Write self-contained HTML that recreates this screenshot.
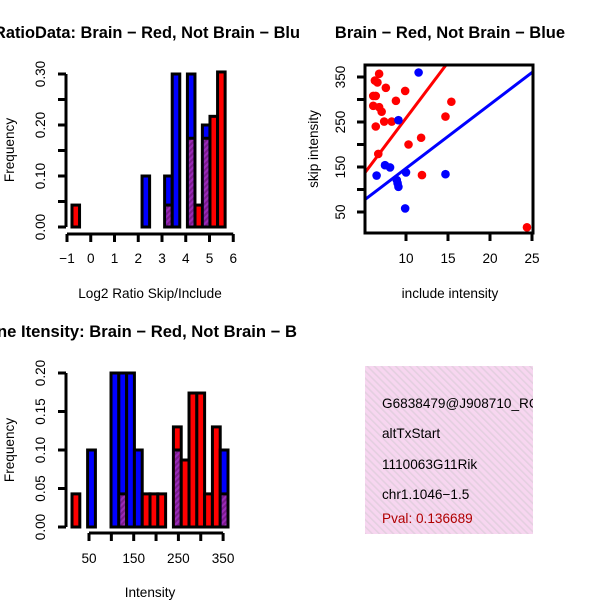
<!DOCTYPE html>
<html><head><meta charset="utf-8">
<style>
html,body{margin:0;padding:0;background:#fff;}
svg{display:block;font-family:"Liberation Sans",sans-serif;}
.t{font-size:13.6px;fill:#000;}
.ttl{font-size:16.5px;font-weight:bold;fill:#000;}
</style></head><body>
<svg id="c" width="600" height="600" viewBox="0 0 600 600" xmlns="http://www.w3.org/2000/svg">
<defs>
<pattern id="ph" width="4" height="4" patternUnits="userSpaceOnUse" patternTransform="rotate(45)">
<rect width="4" height="4" fill="#9a2ab8"/><rect width="2" height="4" fill="#7a1c8c"/>
</pattern>
<pattern id="pink" width="5" height="5" patternUnits="userSpaceOnUse" patternTransform="rotate(-45)">
<rect width="5" height="5" fill="#f7d6f0"/><rect width="1.6" height="5" fill="#e4cfe0"/>
</pattern>
<clipPath id="cp1"><rect x="0" y="0" width="300" height="300"/></clipPath>
<clipPath id="cp3"><rect x="0" y="300" width="300" height="300"/></clipPath>
<clipPath id="cpS"><rect x="365" y="65" width="168" height="168"/></clipPath>
<clipPath id="cpB"><rect x="365" y="366" width="168" height="168"/></clipPath>
</defs>
<g id="g1"></g><g id="g2"></g><g id="g3"></g>
<g>
<rect x="365" y="366" width="168" height="168" fill="url(#pink)"/>
<g clip-path="url(#cpB)" class="t">
<text x="382" y="408">G6838479@J908710_RC</text>
<text x="382" y="438">altTxStart</text>
<text x="382" y="469">1110063G11Rik</text>
<text x="382" y="499">chr1.1046−1.5</text>
<text x="382" y="523" fill="#b00000" style="fill:#b00000">Pval: 0.136689</text>
</g></g>
</svg>
<script>
// ---- Top-left histogram data (log2 ratio) ----
const h1BinLeft = [-0.79, 2.16, 3.11, 3.43, 4.07, 4.39, 4.70, 5.02, 5.34];
const h1Red     = [0.043, 0, 0.043, 0, 0.174, 0.043, 0.174, 0.217, 0.304];
const h1Blue    = [0, 0.10, 0.10, 0.30, 0.30, 0, 0.20, 0, 0];
const h1XTicks  = [-1,0,1,2,3,4,5,6];
const h1YTicks  = ["0.00","0.10","0.20","0.30"];
const h1BinW = 0.318;
// ---- Scatter data ----
const redX = [6.8,6.3,6.6,6.1,6.4,7.6,9.9,8.8,6.1,6.8,7.1,6.4,7.4,8.3,6.7,10.3,11.8,14.7,15.4,11.9,24.4];
const redY = [357,342,338,308,308,326,319,297,286,283,273,240,251,251,179,200,215,262,295,132,16];
const blueX = [11.5,9.1,7.5,8.1,6.5,8.9,9.1,10.0,14.7,9.9,9.0];
const blueY = [360,254,154,149,131,121,106,138,134,58,114];
const redFit = [10.6, 24.8];   // intercept, slope
const blueFit = [5, 14.2];
const sXTicks = [10,15,20,25];
const sYTicks = [50,150,250,350];
// ---- Bottom histogram data (intensity) ----
const h3Red  = [0.043,0,0,0,0,0,0.043,0,0,0.043,0.043,0.043,0,0.13,0.087,0.174,0.174,0.043,0.13,0.043];
const h3Blue = [0,0,0.10,0,0,0.20,0.20,0.20,0.10,0,0,0,0,0.10,0,0,0,0,0,0.10];
const h3Start = 12, h3BinW = 17.45;
const h3XTicks = [50,100,150,200,250,300,350];
const h3XLabels = ["50","","150","","250","","350"];
const h3YTicks = ["0.00","0.05","0.10","0.15","0.20"];

const NS="http://www.w3.org/2000/svg";
function mk(parent, tag, attrs, txt){const e=document.createElementNS(NS,tag);for(const k in attrs)e.setAttribute(k,attrs[k]);if(txt!==undefined)e.textContent=txt;parent.appendChild(e);return e;}

function hist(g, binLeft, binW, red, blue, xs, ys){
  for(let i=0;i<red.length;i++){
    const x0=xs(binLeft[i]), x1=xs(binLeft[i]+binW), r=red[i], b=blue[i];
    const top=Math.max(r,b); if(top<=0) continue;
    const ov=Math.min(r,b);
    const bar=mk(g,'rect',{x:x0,y:ys(top),width:x1-x0,height:ys(0)-ys(top),fill:(b>=r?'#0000ff':'#ff0000'),stroke:'#000','stroke-width':3});
    
    
    if(ov>0){
      const o=mk(g,'rect',{x:x0+1.5,y:ys(ov),width:x1-x0-3,height:ys(0)-ys(ov)-1.5,fill:'url(#ph)'});
      
      
      mk(g,'line',{x1:x0,x2:x1,y1:ys(ov),y2:ys(ov),stroke:'#000','stroke-width':3});
    }
  }
}
function yAxis(g,x,ys,vals,labels,lx){
  mk(g,'line',{x1:x,x2:x,y1:ys(vals[0]),y2:ys(vals[vals.length-1]),stroke:'#000','stroke-width':3});
  vals.forEach((v,i)=>{mk(g,'line',{x1:x-8,x2:x,y1:ys(v),y2:ys(v),stroke:'#000','stroke-width':3});
    if(labels[i]!==''){const t=mk(g,'text',{class:'t',x:lx,y:ys(v),'text-anchor':'middle',transform:`rotate(-90 ${lx} ${ys(v)})`},labels[i]);
    
    }});
}
function xAxis(g,y,xs,vals,labels,ly){
  mk(g,'line',{x1:xs(vals[0]),x2:xs(vals[vals.length-1]),y1:y,y2:y,stroke:'#000','stroke-width':3});
  vals.forEach((v,i)=>{mk(g,'line',{x1:xs(v),x2:xs(v),y1:y,y2:y+8,stroke:'#000','stroke-width':3});
    if(labels[i]!==''){const t=mk(g,'text',{class:'t',x:xs(v),y:ly,'text-anchor':'middle'},labels[i]);
    
    }});
}
// Panel 1
(function(){
  const g=document.getElementById('g1');
  
  
  const xs=v=>67+(v+1)*23.75, ys=f=>227-f*510;
  hist(g,h1BinLeft,h1BinW,h1Red,h1Blue,xs,ys);
  yAxis(g,66,ys,[0,0.05,0.1,0.15,0.2,0.25,0.3],["0.00","","0.10","","0.20","","0.30"],45);
  xAxis(g,234,xs,h1XTicks,h1XTicks.map(v=>v<0?'−'+(-v):String(v)),263);
  const t=mk(g,'text',{class:'ttl',x:-6,y:38,textLength:306,lengthAdjust:'spacingAndGlyphs','clip-path':'url(#cp1)'},'RatioData: Brain − Red, Not Brain − Blu');
  
  
  const xl=mk(g,'text',{class:'t',x:150,y:298,'text-anchor':'middle'},'Log2 Ratio Skip/Include');
  
  
  const yl=mk(g,'text',{class:'t',x:14,y:150,'text-anchor':'middle',transform:'rotate(-90 14 150)'},'Frequency');
  
  
})();
// Panel 2 scatter
(function(){
  const g=document.getElementById('g2');
  
  
  const xs=v=>406+(v-10)*8.4, ys=v=>212-(v-50)*0.45;
  const pc=mk(g,'g',{'clip-path':'url(#cpS)'});
  const x0=5,x1=26;
  [[redFit,'#ff0000','red-fit-line'],[blueFit,'#0000ff','blue-fit-line']].forEach(([f,c,n])=>{
    const l=mk(pc,'line',{x1:xs(x0),y1:ys(f[0]+f[1]*x0),x2:xs(x1),y2:ys(f[0]+f[1]*x1),stroke:c,'stroke-width':3});
    
    
  });
  redX.forEach((x,i)=>{const p=mk(g,'circle',{cx:xs(x),cy:ys(redY[i]),r:4.3,fill:'#ff0000'});
    
    });
  blueX.forEach((x,i)=>{const p=mk(g,'circle',{cx:xs(x),cy:ys(blueY[i]),r:4.3,fill:'#0000ff'});
    
    });
  mk(g,'rect',{x:365,y:65,width:168,height:168,fill:'none',stroke:'#000','stroke-width':3});
  sXTicks.forEach(v=>{mk(g,'line',{x1:xs(v),x2:xs(v),y1:233,y2:241,stroke:'#000','stroke-width':3});
    const t=mk(g,'text',{class:'t',x:xs(v),y:263,'text-anchor':'middle'},String(v));
    
    });
  [50,100,150,200,250,300,350].forEach(v=>{mk(g,'line',{x1:357,x2:365,y1:ys(v),y2:ys(v),stroke:'#000','stroke-width':3});});
  sYTicks.forEach(v=>{const t=mk(g,'text',{class:'t',x:345,y:ys(v),'text-anchor':'middle',transform:`rotate(-90 345 ${ys(v)})`},String(v));
    
    });
  const tt=mk(g,'text',{class:'ttl',x:450,y:38,'text-anchor':'middle'},'Brain − Red, Not Brain − Blue');
  
  
  const xl=mk(g,'text',{class:'t',x:450,y:298,'text-anchor':'middle'},'include intensity');
  
  
  const yl=mk(g,'text',{class:'t',x:318,y:149,'text-anchor':'middle',transform:'rotate(-90 318 149)'},'skip intensity');
  
  
})();
// Panel 3
(function(){
  const g=document.getElementById('g3');
  
  
  const xs=v=>89+(v-50)*0.447, ys=f=>527-f*770;
  const left=h3Red.map((_,i)=>h3Start+i*h3BinW);
  hist(g,left,h3BinW,h3Red,h3Blue,xs,ys);
  yAxis(g,66,ys,[0,0.05,0.1,0.15,0.2],h3YTicks,45);
  xAxis(g,533,xs,h3XTicks,h3XLabels,563);
  const t=mk(g,'text',{class:'ttl',x:-3,y:337,textLength:300,lengthAdjust:'spacingAndGlyphs','clip-path':'url(#cp3)'},'ne Itensity: Brain − Red, Not Brain − B');
  
  
  const xl=mk(g,'text',{class:'t',x:150,y:597,'text-anchor':'middle'},'Intensity');
  
  
  const yl=mk(g,'text',{class:'t',x:14,y:450,'text-anchor':'middle',transform:'rotate(-90 14 450)'},'Frequency');
  
  
})();
</script>
</body></html>
